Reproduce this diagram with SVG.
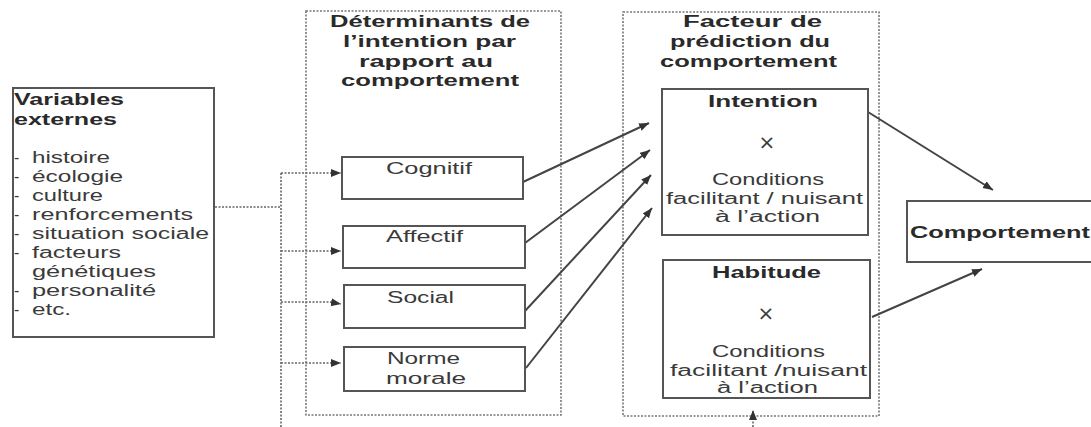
<svg xmlns="http://www.w3.org/2000/svg" width="1091" height="427" viewBox="0 0 1091 427">
<style>
.box{fill:#fff;stroke:#555;stroke-width:2}
.grp{fill:none;stroke:#777;stroke-width:1.6;stroke-dasharray:2,1.5}
.dot{fill:none;stroke:#666;stroke-width:1.6;stroke-dasharray:2,1.5}
.arr{fill:none;stroke:#444;stroke-width:2}
.t{font-family:"Liberation Sans",Arial,sans-serif;font-size:16px;fill:#3a3a3a}
.b{font-family:"Liberation Sans",Arial,sans-serif;font-size:16px;font-weight:bold;fill:#2a2a2a}
.x{font-family:"DejaVu Sans",sans-serif;font-size:20px;fill:#3a3a3a}
</style>
<defs>
<marker id="ah" markerUnits="userSpaceOnUse" markerWidth="12" markerHeight="10" refX="10" refY="4" orient="auto">
<path d="M0,0 L10,4 L0,8 Z" fill="#333"/>
</marker>
</defs>
<rect width="1091" height="427" fill="#fff"/>

<g id="groupe-determinants">
<rect class="grp" x="306" y="11" width="255" height="404"/>
<text class="b" x="330" y="27" textLength="200" lengthAdjust="spacingAndGlyphs">Déterminants de</text>
<text class="b" x="343" y="47" textLength="173" lengthAdjust="spacingAndGlyphs">l’intention par</text>
<text class="b" x="359" y="67" textLength="134" lengthAdjust="spacingAndGlyphs">rapport au</text>
<text class="b" x="341" y="86" textLength="178" lengthAdjust="spacingAndGlyphs">comportement</text>
</g>

<g id="groupe-facteur">
<rect class="grp" x="623" y="12" width="256" height="404"/>
<text class="b" x="683" y="27" textLength="139" lengthAdjust="spacingAndGlyphs">Facteur de</text>
<text class="b" x="670" y="47" textLength="160" lengthAdjust="spacingAndGlyphs">prédiction du</text>
<text class="b" x="660" y="67" textLength="177" lengthAdjust="spacingAndGlyphs">comportement</text>
</g>

<g id="connecteurs">
<path class="dot" d="M215,207 H281"/>
<path class="dot" d="M281,173 V427"/>
<path class="dot" d="M281,173 H341" marker-end="url(#ah)"/>
<path class="dot" d="M281,251 H341" marker-end="url(#ah)"/>
<path class="dot" d="M281,302 H330 L341,304" marker-end="url(#ah)"/>
<path class="dot" d="M281,363 H341" marker-end="url(#ah)"/>
<path class="dot" d="M753,427 V410" marker-end="url(#ah)"/>
<path class="arr" d="M523,182 L649,123" marker-end="url(#ah)"/>
<path class="arr" d="M525,243 L650,150" marker-end="url(#ah)"/>
<path class="arr" d="M525,311 L651,175" marker-end="url(#ah)"/>
<path class="arr" d="M526,368 L652,208" marker-end="url(#ah)"/>
<path class="arr" d="M868,112 L993,190" marker-end="url(#ah)"/>
<path class="arr" d="M872,317 L982,269" marker-end="url(#ah)"/>
</g>

<g id="variables-externes">
<rect class="box" x="13" y="88" width="201" height="249"/>
<text class="b" x="14" y="105" textLength="110" lengthAdjust="spacingAndGlyphs">Variables</text>
<text class="b" x="14" y="125" textLength="103" lengthAdjust="spacingAndGlyphs">externes</text>
<g class="t">
<text x="14" y="163">-</text>
<text x="14" y="182">-</text>
<text x="14" y="201">-</text>
<text x="14" y="220">-</text>
<text x="14" y="239">-</text>
<text x="14" y="258">-</text>
<text x="14" y="296">-</text>
<text x="14" y="315">-</text>
</g>
<text class="t" x="32" y="163" textLength="78" lengthAdjust="spacingAndGlyphs">histoire</text>
<text class="t" x="32" y="182" textLength="91" lengthAdjust="spacingAndGlyphs">écologie</text>
<text class="t" x="32" y="201" textLength="71" lengthAdjust="spacingAndGlyphs">culture</text>
<text class="t" x="32" y="220" textLength="161" lengthAdjust="spacingAndGlyphs">renforcements</text>
<text class="t" x="32" y="239" textLength="177" lengthAdjust="spacingAndGlyphs">situation sociale</text>
<text class="t" x="32" y="258" textLength="89" lengthAdjust="spacingAndGlyphs">facteurs</text>
<text class="t" x="32" y="277" textLength="124" lengthAdjust="spacingAndGlyphs">génétiques</text>
<text class="t" x="32" y="296" textLength="124" lengthAdjust="spacingAndGlyphs">personalité</text>
<text class="t" x="32" y="315" textLength="39" lengthAdjust="spacingAndGlyphs">etc.</text>
</g>

<g id="cognitif">
<rect class="box" x="342" y="157" width="181" height="42"/>
<text class="t" x="386" y="174" textLength="86" lengthAdjust="spacingAndGlyphs">Cognitif</text>
</g>
<g id="affectif">
<rect class="box" x="343" y="226" width="182" height="42"/>
<text class="t" x="386" y="242" textLength="77" lengthAdjust="spacingAndGlyphs">Affectif</text>
</g>
<g id="social">
<rect class="box" x="344" y="285" width="181" height="43"/>
<text class="t" x="387" y="303" textLength="67" lengthAdjust="spacingAndGlyphs">Social</text>
</g>
<g id="norme-morale">
<rect class="box" x="344" y="347" width="181" height="44"/>
<text class="t" x="387" y="364" textLength="73" lengthAdjust="spacingAndGlyphs">Norme</text>
<text class="t" x="386" y="384" textLength="80" lengthAdjust="spacingAndGlyphs">morale</text>
</g>

<g id="intention">
<rect class="box" x="662" y="89" width="206" height="146"/>
<text class="b" x="708" y="107" textLength="110" lengthAdjust="spacingAndGlyphs">Intention</text>
<text class="x" x="767" y="149" text-anchor="middle">×</text>
<text class="t" x="712" y="185" textLength="112" lengthAdjust="spacingAndGlyphs">Conditions</text>
<text class="t" x="666" y="204" textLength="197" lengthAdjust="spacingAndGlyphs">facilitant / nuisant</text>
<text class="t" x="715" y="222" textLength="105" lengthAdjust="spacingAndGlyphs">à l’action</text>
</g>

<g id="habitude">
<rect class="box" x="663" y="260" width="207" height="138"/>
<text class="b" x="712" y="278" textLength="109" lengthAdjust="spacingAndGlyphs">Habitude</text>
<text class="x" x="766" y="320" text-anchor="middle">×</text>
<text class="t" x="712" y="357" textLength="113" lengthAdjust="spacingAndGlyphs">Conditions</text>
<text class="t" x="670" y="376" textLength="197" lengthAdjust="spacingAndGlyphs">facilitant  /nuisant</text>
<text class="t" x="717" y="393" textLength="101" lengthAdjust="spacingAndGlyphs">à l’action</text>
</g>

<g id="comportement">
<rect class="box" x="907" y="201" width="190" height="61"/>
<text class="b" x="910" y="238" textLength="180" lengthAdjust="spacingAndGlyphs">Comportement</text>
</g>
</svg>
